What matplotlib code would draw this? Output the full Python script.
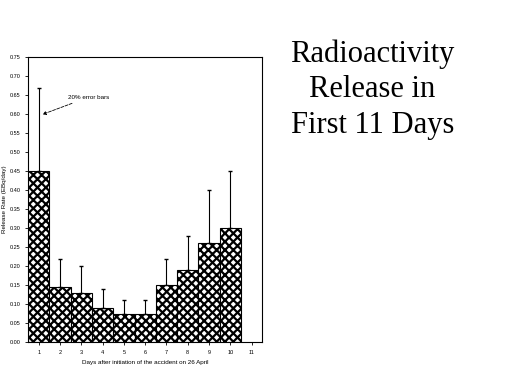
#!/usr/bin/env python3

import matplotlib
matplotlib.use("Agg")
import matplotlib.pyplot as plt

"""
Radioactivity release rate in the first 11 days
"""

days = [1, 2, 3, 4, 5, 6, 7, 8, 9, 10]
release = [0.45, 0.145, 0.13, 0.09, 0.075, 0.075, 0.15, 0.19, 0.26, 0.30]
err_top = [0.67, 0.22, 0.20, 0.14, 0.11, 0.11, 0.22, 0.28, 0.40, 0.45]
xticks = [1, 2, 3, 4, 5, 6, 7, 8, 9, 10, 11]
yticks = [i * 0.05 for i in range(16)]
title_lines = ["Radioactivity", "Release in", "First 11 Days"]


def main():
    plt.rcParams["hatch.linewidth"] = 1.6
    plt.rcParams["font.family"] = ["Liberation Sans", "DejaVu Sans"]

    fig = plt.figure(figsize=(5.12, 3.84), dpi=100)
    ax = fig.add_axes([0.055, 0.109, 0.457, 0.742])

    ax.bar(days, release, width=1.0, color="white", edgecolor="black",
           hatch="xxxx", linewidth=0.8)
    upper = [t - r for t, r in zip(err_top, release)]
    ax.errorbar(days, release, yerr=[[0] * len(days), upper], fmt="none",
                ecolor="black", elinewidth=0.8, capsize=1.5)

    ax.set_xlim(0.5, 11.5)
    ax.set_ylim(0, 0.75)
    ax.set_xticks(xticks)
    ax.set_xticklabels([str(d) for d in xticks])
    ax.set_yticks(yticks)
    ax.set_yticklabels(["%.2f" % v for v in yticks])
    ax.tick_params(labelsize=4, length=2, width=0.6, colors="black")
    for s in ax.spines.values():
        s.set_linewidth(0.8)

    ax.set_xlabel("Days after initiation of the accident on 26 April", fontsize=4.5)
    ax.set_ylabel("Release Rate (EBq/day)", fontsize=4.5, labelpad=2)

    ax.annotate("20% error bars", xy=(1.05, 0.597), xytext=(2.38, 0.645),
                fontsize=4.5, va="center",
                arrowprops=dict(arrowstyle="-|>", linestyle="--", lw=0.6,
                                color="black", mutation_scale=5))

    ys = [0.86, 0.766, 0.672]
    for line, y in zip(title_lines, ys):
        fig.text(0.727, y, line, ha="center", va="center",
                 fontsize=22, family="Liberation Serif")

    fig.savefig("out.png", dpi=100)


if __name__ == "__main__":
    main()
